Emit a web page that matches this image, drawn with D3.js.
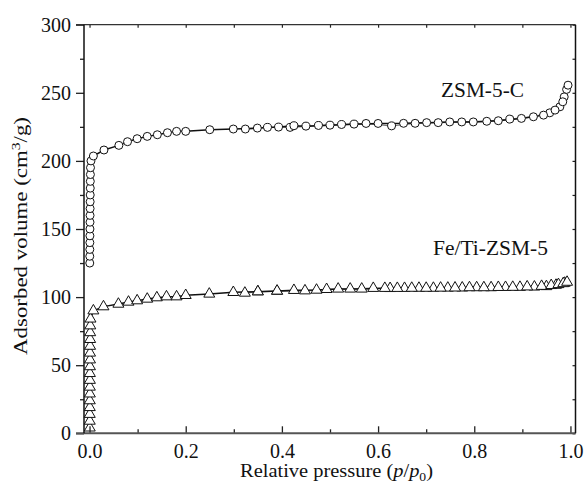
<!DOCTYPE html>
<html>
<head>
<meta charset="utf-8">
<script src="https://cdn.jsdelivr.net/npm/d3@7"></script>
<style>
body { margin: 0; background: #fff; }
svg text { font-family: "Liberation Serif", "Times New Roman", Times, "Nimbus Roman", "DejaVu Serif", serif; fill: #111; }
</style>
</head>
<body>
<script>
// ZSM-5-C isotherm (circles)
var zsmAdsP = [0.0005,0.0005,0.0006,0.0007,0.0008,0.0009,0.001,0.0011,0.0012,0.0013,0.0014,0.0015,0.0016,0.0018,0.002,0.003,
  0.008,0.030,0.061,0.079,0.099,0.120,0.141,0.162,0.181,0.200,0.250,0.299,0.349,0.393,0.425,0.450,0.500,0.550,0.600,
  0.653,0.701,0.749,0.798,0.850,0.898,0.944,0.968,0.984,0.992,0.995];
var zsmAdsV = [125,130,135,140,145,150,155,160,165,170,175,180,185,190,195,200,
  203.6,208,211.4,214.1,216.3,218,219.2,220.7,221.7,221.7,222.9,223.4,224.1,224.8,225.8,225.5,226.2,227.0,227.5,
  227.6,228.1,228.6,228.6,229.5,231.2,233.6,237.3,243.4,252.5,255.6];
var zsmDesP = [0.987,0.978,0.957,0.923,0.874,0.826,0.774,0.725,0.677,0.628,0.575,0.524,0.476,0.417,0.370,0.324];
var zsmDesV = [247.0,239.7,235.3,232.4,230.7,229.1,228.6,228.1,227.6,225.7,227.5,226.7,226.0,224.6,224.6,223.4];

// Fe/Ti-ZSM-5 isotherm (triangles)
var feAdsP = [0.0005,0.0005,0.0005,0.0006,0.0006,0.0007,0.0007,0.0008,0.0008,0.0009,0.001,0.0011,0.0012,0.0013,0.0014,0.0016,0.002,
  0.008,0.029,0.060,0.081,0.099,0.120,0.140,0.160,0.181,0.200,0.249,0.299,0.350,0.390,0.425,0.472,0.517,0.566,0.614,
  0.640,0.670,0.700,0.730,0.760,0.790,0.820,0.850,0.880,0.910,0.940,0.960,0.975,0.985,0.993];
var feAdsV = [4,9,14,19,24,29,34,39,44,49,54,59,64,69,74,79,84,
  90,93,94.9,96.4,97.4,98.6,99.6,100.3,100.3,101.3,102.3,103.5,104,104.5,105,105.2,106,106,106.5,
  106.5,106.6,106.6,106.7,106.8,107,107,107.2,107.3,107.6,108,108.6,109.3,110,111];
var feDesP = [0.988,0.970,0.950,0.925,0.895,0.865,0.835,0.805,0.775,0.745,0.715,0.685,0.655,0.625,0.590,0.542,0.493,0.448,0.390,0.350,0.323];
var feDesV = [110.3,108.8,107.8,107.5,107.3,107.2,107,107,106.8,106.7,106.6,106.6,106.5,106.4,106.5,106,105.7,104.7,104.3,104,103];

var xMajor = [0, 0.2, 0.4, 0.6, 0.8, 1.0];
var xMinor = [0.1, 0.3, 0.5, 0.7, 0.9];
var yMajor = [0, 50, 100, 150, 200, 250, 300];
var yMinor = [25, 75, 125, 175, 225, 275];

var W = 586, H = 489;
var L = 84, R = 575.5, T = 24.7, B = 433.3;
var FONT = "'Liberation Serif', 'Times New Roman', Times, 'Nimbus Roman', 'DejaVu Serif', serif";

var svg = d3.select("body").append("svg")
  .attr("width", W)
  .attr("height", H);

var x = d3.scaleLinear().domain([-0.0115, 1.0105]).range([L, R]);
var y = d3.scaleLinear().domain([0, 300]).range([B, T]);

function zip(a, b) { return a.map(function(v, i) { return [v, b[i]]; }); }

var line = d3.line().x(function(d) { return x(d[0]); }).y(function(d) { return y(d[1]); });

// lines
svg.append("path").datum(zip(zsmDesP, zsmDesV)).attr("d", line)
  .attr("fill", "none").attr("stroke", "#777").attr("stroke-width", 1.4);
svg.append("path").datum(zip(feDesP, feDesV)).attr("d", line)
  .attr("fill", "none").attr("stroke", "#777").attr("stroke-width", 1.4);
svg.append("path").datum(zip(zsmAdsP, zsmAdsV)).attr("d", line)
  .attr("fill", "none").attr("stroke", "#111").attr("stroke-width", 1.5);
svg.append("path").datum(zip(feAdsP, feAdsV)).attr("d", line)
  .attr("fill", "none").attr("stroke", "#111").attr("stroke-width", 1.5);

// markers
var tri = d3.symbol().type(d3.symbolTriangle).size(52);
svg.selectAll(".feTri").data(zip(feDesP, feDesV).concat(zip(feAdsP, feAdsV))).enter()
  .append("path").attr("class", "feTri")
  .attr("d", tri)
  .attr("transform", function(d) { return "translate(" + x(d[0]) + "," + y(d[1]) + ")"; })
  .attr("fill", "#fff").attr("stroke", "#111").attr("stroke-width", 1);

svg.selectAll(".zsmCirc").data(zip(zsmDesP, zsmDesV).concat(zip(zsmAdsP, zsmAdsV))).enter()
  .append("circle").attr("class", "zsmCirc")
  .attr("cx", function(d) { return x(d[0]); })
  .attr("cy", function(d) { return y(d[1]); })
  .attr("r", 4)
  .attr("fill", "#fff").attr("stroke", "#111").attr("stroke-width", 1);

// axes
function styleAxis(g, col, w) {
  g.attr("font-family", null);
  g.select(".domain").remove();
  g.selectAll("line").attr("stroke", col).attr("stroke-width", w);
  g.selectAll("text").style("font-family", FONT).attr("font-size", 20).attr("fill", "#111");
}

var gxMin = svg.append("g").attr("transform", "translate(0," + B + ")")
  .call(d3.axisBottom(x).tickValues(xMinor).tickSize(-4).tickFormat(""));
styleAxis(gxMin, "#222", 1.3);
var gx = svg.append("g").attr("transform", "translate(0," + B + ")")
  .call(d3.axisBottom(x).tickValues(xMajor).tickSize(-7).tickPadding(11).tickFormat(d3.format(".1f")));
styleAxis(gx, "#222", 1.3);

var gxTop = svg.append("g").attr("transform", "translate(0," + T + ")")
  .call(d3.axisTop(x).tickValues(xMajor.concat(xMinor)).tickSize(-3).tickFormat(""));
styleAxis(gxTop, "#222", 1.2);

var gyMin = svg.append("g").attr("transform", "translate(" + L + ",0)")
  .call(d3.axisLeft(y).tickValues(yMinor).tickSize(4).tickFormat(""));
styleAxis(gyMin, "#222", 1.3);
var gy = svg.append("g").attr("transform", "translate(" + L + ",0)")
  .call(d3.axisLeft(y).tickValues(yMajor).tickSize(8).tickPadding(5));
styleAxis(gy, "#222", 1.3);

var gyR = svg.append("g").attr("transform", "translate(" + R + ",0)")
  .call(d3.axisRight(y).tickValues(yMajor.concat(yMinor)).tickSize(-3).tickFormat(""));
styleAxis(gyR, "#222", 1.2);

// frame
svg.append("line").attr("x1", L - 8).attr("x2", R).attr("y1", B).attr("y2", B)
  .attr("stroke", "#555").attr("stroke-width", 2);
svg.append("line").attr("x1", L - 8).attr("x2", R).attr("y1", T).attr("y2", T)
  .attr("stroke", "#333").attr("stroke-width", 1.3);
svg.append("line").attr("x1", L).attr("x2", L).attr("y1", T).attr("y2", B)
  .attr("stroke", "#111").attr("stroke-width", 1.5);
svg.append("line").attr("x1", R).attr("x2", R).attr("y1", T).attr("y2", B)
  .attr("stroke", "#111").attr("stroke-width", 1.5);

// titles
var xt = svg.append("text").attr("x", 240).attr("y", 477)
  .attr("font-size", 18).style("font-family", FONT)
  .attr("textLength", 193).attr("lengthAdjust", "spacingAndGlyphs");
xt.append("tspan").text("Relative pressure (");
xt.append("tspan").attr("font-style", "italic").text("p");
xt.append("tspan").text("/");
xt.append("tspan").attr("font-style", "italic").text("p");
xt.append("tspan").attr("font-size", 12).attr("dy", 4).text("0");
xt.append("tspan").attr("dy", -4).text(")");

var yt = svg.append("text").attr("transform", "translate(27,355) rotate(-90)")
  .attr("font-size", 19).style("font-family", FONT)
  .attr("textLength", 238).attr("lengthAdjust", "spacingAndGlyphs");
yt.append("tspan").text("Adsorbed volume (cm");
yt.append("tspan").attr("font-size", 13).attr("dy", -7).text("3");
yt.append("tspan").attr("dy", 7).text("/g)");

svg.append("text").attr("x", 441).attr("y", 97).attr("font-size", 21).style("font-family", FONT)
  .attr("textLength", 83).attr("lengthAdjust", "spacingAndGlyphs").text("ZSM-5-C");
svg.append("text").attr("x", 433).attr("y", 255).attr("font-size", 21).style("font-family", FONT)
  .attr("textLength", 115).attr("lengthAdjust", "spacingAndGlyphs").text("Fe/Ti-ZSM-5");
</script>
</body>
</html>
